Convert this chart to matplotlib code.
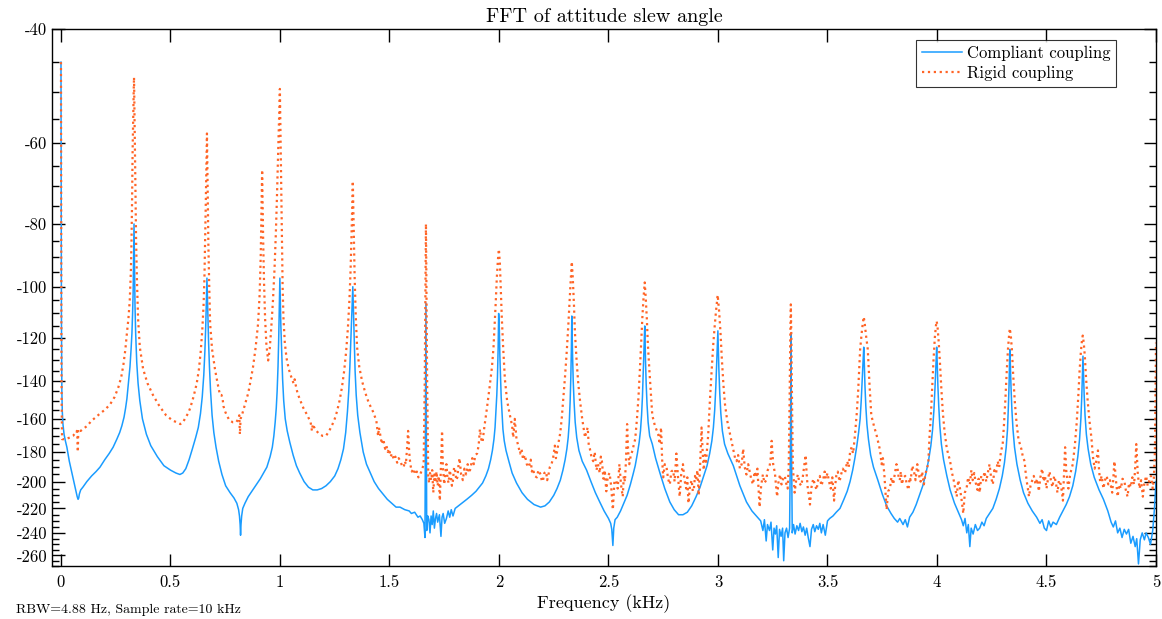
import numpy as np
import matplotlib
matplotlib.use("Agg")
import matplotlib.pyplot as plt
from matplotlib.ticker import FixedLocator, FuncFormatter

plt.rcParams['font.family'] = 'serif'
plt.rcParams['font.serif'] = ['cmr10', 'DejaVu Serif']
plt.rcParams['mathtext.fontset'] = 'cm'
plt.rcParams['axes.unicode_minus'] = False
plt.rcParams['axes.formatter.use_mathtext'] = True

## Spectrum data (frequency in kHz, magnitude in dB)
compliant_freq = [
    0.000, 0.001, 0.002, 0.003, 0.004, 0.006, 0.009, 0.014, 0.020, 0.027,
    0.038, 0.050, 0.060, 0.068, 0.074, 0.078, 0.081, 0.084, 0.090, 0.100,
    0.118, 0.140, 0.160, 0.178, 0.200, 0.220, 0.238, 0.255, 0.268, 0.278,
    0.288, 0.295, 0.301, 0.308, 0.315, 0.320, 0.324, 0.327, 0.3295, 0.331,
    0.3325, 0.3335, 0.3345, 0.336, 0.338, 0.341, 0.346, 0.352, 0.360, 0.372,
    0.390, 0.410, 0.440, 0.470, 0.500, 0.525, 0.543, 0.556, 0.570, 0.585,
    0.600, 0.615, 0.627, 0.637, 0.645, 0.652, 0.657, 0.661, 0.664, 0.6665,
    0.6685, 0.671, 0.674, 0.678, 0.683, 0.690, 0.698, 0.708, 0.720, 0.735,
    0.752, 0.772, 0.790, 0.803, 0.811, 0.815, 0.818, 0.820, 0.822, 0.825,
    0.830, 0.840, 0.855, 0.880, 0.910, 0.940, 0.955, 0.965, 0.972, 0.978,
    0.983, 0.987, 0.991, 0.994, 0.997, 0.9995, 1.0015, 1.004, 1.008, 1.012,
    1.017, 1.024, 1.033, 1.045, 1.060, 1.075, 1.090, 1.110, 1.130, 1.150,
    1.170, 1.190, 1.210, 1.230, 1.250, 1.265, 1.278, 1.290, 1.300, 1.308,
    1.314, 1.319, 1.323, 1.327, 1.3305, 1.3325, 1.3345, 1.337, 1.340, 1.343,
    1.348, 1.355, 1.365, 1.380, 1.395, 1.410, 1.430, 1.450, 1.470, 1.490,
    1.510, 1.530, 1.548, 1.570, 1.590, 1.600, 1.615, 1.630, 1.640, 1.650,
    1.657, 1.662, 1.6645, 1.6665, 1.6685, 1.670, 1.675, 1.680, 1.685, 1.690,
    1.695, 1.700, 1.705, 1.710, 1.715, 1.720, 1.728, 1.735, 1.740, 1.745,
    1.752, 1.760, 1.768, 1.775, 1.782, 1.790, 1.800, 1.815, 1.830, 1.853,
    1.875, 1.895, 1.910, 1.925, 1.940, 1.952, 1.962, 1.970, 1.977, 1.982,
    1.986, 1.990, 1.993, 1.996, 1.9985, 2.0015, 2.004, 2.007, 2.010, 2.014,
    2.018, 2.024, 2.032, 2.045, 2.060, 2.080, 2.105, 2.130, 2.160, 2.190,
    2.210, 2.230, 2.250, 2.265, 2.280, 2.292, 2.302, 2.310, 2.316, 2.321,
    2.325, 2.328, 2.3305, 2.3325, 2.334, 2.336, 2.339, 2.343, 2.348, 2.355,
    2.365, 2.380, 2.400, 2.420, 2.440, 2.460, 2.480, 2.500, 2.510, 2.515,
    2.520, 2.524, 2.530, 2.540, 2.555, 2.570, 2.585, 2.600, 2.612, 2.622,
    2.632, 2.640, 2.646, 2.651, 2.655, 2.658, 2.661, 2.6635, 2.6655, 2.667,
    2.669, 2.672, 2.676, 2.681, 2.688, 2.700, 2.715, 2.735, 2.757, 2.780,
    2.800, 2.820, 2.840, 2.860, 2.880, 2.900, 2.918, 2.935, 2.950, 2.962,
    2.972, 2.979, 2.985, 2.990, 2.994, 2.997, 2.9995, 3.0015, 3.004, 3.008,
    3.013, 3.020, 3.030, 3.045, 3.070, 3.100, 3.130, 3.155, 3.180, 3.195,
    3.205, 3.212, 3.220, 3.226, 3.235, 3.242, 3.250, 3.256, 3.262, 3.268,
    3.275, 3.281, 3.288, 3.295, 3.300, 3.306, 3.313, 3.320, 3.327, 3.331,
    3.3335, 3.3355, 3.339, 3.345, 3.352, 3.360, 3.368, 3.375, 3.383, 3.390,
    3.398, 3.405, 3.412, 3.420, 3.427, 3.435, 3.442, 3.450, 3.458, 3.465,
    3.472, 3.480, 3.490, 3.500, 3.510, 3.525, 3.540, 3.557, 3.575, 3.590,
    3.603, 3.615, 3.625, 3.634, 3.642, 3.649, 3.654, 3.658, 3.661, 3.6655,
    3.668, 3.671, 3.675, 3.680, 3.687, 3.697, 3.710, 3.730, 3.750, 3.770,
    3.790, 3.805, 3.820, 3.830, 3.845, 3.855, 3.865, 3.875, 3.890, 3.905,
    3.920, 3.935, 3.950, 3.962, 3.972, 3.980, 3.986, 3.991, 3.995, 3.9985,
    4.001, 4.004, 4.008, 4.013, 4.020, 4.030, 4.045, 4.060, 4.080, 4.100,
    4.112, 4.120, 4.128, 4.136, 4.143, 4.150, 4.156, 4.165, 4.175, 4.185,
    4.195, 4.205, 4.215, 4.225, 4.240, 4.255, 4.270, 4.285, 4.298, 4.308,
    4.316, 4.322, 4.326, 4.329, 4.3315, 4.3325, 4.335, 4.338, 4.342, 4.347,
    4.354, 4.365, 4.380, 4.395, 4.415, 4.435, 4.455, 4.470, 4.480, 4.490,
    4.500, 4.510, 4.520, 4.530, 4.545, 4.560, 4.575, 4.590, 4.605, 4.620,
    4.633, 4.643, 4.651, 4.657, 4.661, 4.664, 4.6665, 4.669, 4.672, 4.676,
    4.682, 4.690, 4.702, 4.718, 4.740, 4.760, 4.780, 4.795, 4.805, 4.815,
    4.825, 4.835, 4.845, 4.855, 4.865, 4.875, 4.885, 4.895, 4.905, 4.912,
    4.920, 4.928, 4.937, 4.947, 4.955, 4.965, 4.975, 4.985, 4.993, 5.000]
compliant_db = [
    -45, -80, -110, -132, -145, -156, -163, -169, -173, -177,
    -186, -194, -201, -207, -211, -213, -212, -209, -206, -204,
    -200, -196, -193, -190, -185, -181, -177, -172, -168, -164,
    -159, -154, -149, -141, -133, -125, -118, -110, -102, -94,
    -86, -80, -86, -96, -107, -118, -131, -141, -150, -160,
    -169, -176, -183, -189, -192, -194, -195, -194, -191, -185,
    -178, -171, -165, -157, -148, -137, -126, -115, -105, -97,
    -103, -112, -122, -133, -145, -158, -168, -177, -186, -195,
    -203, -208, -212, -216, -221, -226, -233, -242, -233, -226,
    -220, -216, -211, -205, -198, -190, -183, -177, -170, -162,
    -154, -145, -133, -121, -108, -97, -104, -115, -127, -139,
    -150, -160, -167, -174, -182, -189, -194, -200, -204, -206,
    -206, -205, -203, -200, -196, -191, -185, -178, -168, -156,
    -145, -133, -122, -112, -104, -100, -106, -115, -126, -135,
    -147, -158, -168, -180, -188, -193, -200, -205, -209, -213,
    -216, -219, -219, -221, -222, -224, -223, -227, -226, -229,
    -232, -244, -160, -106, -160, -238, -226, -229, -240, -226,
    -233, -222, -236, -228, -224, -231, -225, -243, -227, -224,
    -232, -228, -222, -227, -221, -226, -220, -218, -216, -213,
    -210, -207, -204, -201, -196, -191, -185, -179, -172, -165,
    -156, -147, -138, -125, -110, -116, -128, -138, -148, -157,
    -166, -173, -179, -186, -194, -201, -208, -213, -217, -219,
    -218, -215, -210, -205, -199, -192, -185, -178, -171, -162,
    -150, -138, -125, -111, -118, -128, -140, -151, -162, -171,
    -179, -186, -192, -200, -208, -215, -222, -228, -232, -237,
    -251, -236, -229, -227, -222, -216, -210, -202, -195, -189,
    -181, -174, -167, -158, -148, -138, -128, -120, -115, -120,
    -130, -141, -152, -162, -170, -175, -184, -194, -205, -215,
    -221, -225, -225, -223, -218, -211, -204, -196, -189, -181,
    -173, -165, -155, -143, -131, -122, -117, -124, -134, -146,
    -157, -167, -175, -181, -189, -203, -215, -222, -227, -230,
    -238, -229, -247, -233, -238, -231, -255, -236, -241, -234,
    -262, -237, -243, -236, -265, -240, -236, -244, -236, -170,
    -118, -170, -240, -233, -241, -234, -238, -232, -239, -235,
    -242, -236, -244, -252, -237, -233, -239, -234, -237, -232,
    -240, -233, -242, -230, -228, -226, -223, -220, -213, -207,
    -200, -192, -184, -176, -168, -160, -150, -140, -132, -124,
    -131, -142, -153, -163, -172, -182, -190, -199, -209, -218,
    -224, -228, -231, -228, -233, -229, -235, -227, -223, -217,
    -210, -203, -194, -185, -176, -166, -155, -143, -132, -124,
    -131, -142, -153, -164, -175, -185, -196, -206, -216, -224,
    -229, -234, -228, -240, -233, -252, -236, -241, -233, -238,
    -236, -231, -234, -228, -224, -220, -213, -205, -196, -187,
    -177, -166, -153, -142, -131, -125, -132, -143, -155, -166,
    -177, -188, -199, -208, -216, -222, -227, -232, -229, -236,
    -238, -230, -235, -231, -233, -227, -222, -217, -211, -203,
    -193, -183, -172, -160, -148, -137, -128, -136, -147, -158,
    -169, -178, -188, -197, -206, -213, -222, -231, -235, -230,
    -240, -236, -244, -237, -241, -237, -249, -243, -252, -245,
    -268, -246, -240, -246, -240, -244, -250, -238, -220, -200]

# one line per stretch of the spectrum (same split in both lists)
rigid_freq = [
    0.000, 0.001, 0.002, 0.003, 0.005, 0.020, 0.040, 0.055, 0.066, 0.072, 0.075, 0.077, 0.079,
    0.082, 0.090, 0.100, 0.120, 0.140, 0.160, 0.178, 0.200, 0.224, 0.245, 0.262, 0.275, 0.285, 0.294, 0.301, 0.308, 0.314,
    0.319, 0.322, 0.3245, 0.327, 0.330, 0.332, 0.3335, 0.335, 0.337, 0.340, 0.343, 0.347, 0.352,
    0.360, 0.375, 0.395, 0.420, 0.450, 0.480, 0.510, 0.530, 0.545, 0.557, 0.570, 0.580, 0.590, 0.605, 0.620, 0.630, 0.638,
    0.645, 0.651, 0.655, 0.658, 0.661, 0.664, 0.6665, 0.668, 0.670, 0.673, 0.677, 0.681,
    0.690, 0.703, 0.715, 0.726, 0.733, 0.738, 0.742, 0.750, 0.757, 0.770, 0.786, 0.800, 0.810, 0.814, 0.817, 0.820, 0.826, 0.833, 0.845, 0.855, 0.867, 0.877, 0.889, 0.900,
    0.907, 0.912, 0.915, 0.917, 0.9185, 0.920, 0.923, 0.927, 0.932, 0.938, 0.946, 0.953, 0.960, 0.968, 0.975, 0.981, 0.986, 0.991, 0.995, 0.9995, 1.001, 1.003, 1.006, 1.009, 1.012, 1.016,
    1.022, 1.030, 1.040, 1.052, 1.062, 1.067, 1.072, 1.080, 1.093, 1.107, 1.125, 1.140, 1.146, 1.150, 1.160, 1.180, 1.195, 1.210, 1.225, 1.240, 1.250, 1.260, 1.272, 1.283, 1.293, 1.302, 1.310, 1.317,
    1.322, 1.326, 1.329, 1.3315, 1.3325, 1.334, 1.337, 1.341, 1.346, 1.352,
    1.362, 1.375, 1.390, 1.405, 1.425, 1.440, 1.448,
    1.452, 1.465, 1.472, 1.480, 1.486, 1.492, 1.498, 1.505, 1.512, 1.520, 1.527, 1.535, 1.542, 1.550, 1.557, 1.565, 1.570, 1.575, 1.580, 1.585, 1.590, 1.595, 1.602, 1.610, 1.617, 1.625, 1.632, 1.640, 1.648, 1.656,
    1.661, 1.664, 1.6665, 1.669, 1.672,
    1.677, 1.681, 1.685, 1.690, 1.695, 1.700, 1.705, 1.710, 1.715, 1.720, 1.725, 1.730, 1.735, 1.740, 1.744, 1.750, 1.755, 1.760, 1.765, 1.770, 1.775, 1.780, 1.785, 1.790, 1.795, 1.800, 1.805, 1.810, 1.815, 1.820, 1.827, 1.835, 1.842, 1.850, 1.857, 1.863, 1.870, 1.878, 1.885, 1.892, 1.900, 1.907, 1.913, 1.919, 1.925, 1.930,
    1.935, 1.945, 1.957, 1.968, 1.975, 1.980, 1.985, 1.990, 1.995, 1.9995, 2.004, 2.008, 2.013, 2.019, 2.027, 2.037, 2.050, 2.060,
    2.065, 2.072, 2.080, 2.088, 2.096, 2.103, 2.110, 2.118, 2.127, 2.136, 2.145, 2.150, 2.155, 2.163, 2.173, 2.180, 2.190, 2.195, 2.200, 2.207, 2.215, 2.220, 2.225, 2.232, 2.240, 2.248, 2.255, 2.260, 2.265, 2.272, 2.280,
    2.287, 2.293, 2.302, 2.310, 2.317, 2.323, 2.328, 2.3325, 2.337, 2.342, 2.347, 2.355, 2.362, 2.370, 2.380, 2.393,
    2.398, 2.405, 2.410, 2.415, 2.422, 2.430, 2.437, 2.445, 2.452, 2.460, 2.465, 2.470, 2.477, 2.483, 2.490, 2.497, 2.505, 2.512, 2.520, 2.527, 2.535, 2.542, 2.550, 2.557, 2.565, 2.570, 2.575, 2.580, 2.585, 2.590, 2.595, 2.602, 2.610, 2.616, 2.622,
    2.630, 2.637, 2.644, 2.650, 2.655, 2.660, 2.6655, 2.670, 2.675, 2.680, 2.687, 2.694, 2.700, 2.712,
    2.727, 2.734, 2.740, 2.745, 2.750, 2.757, 2.765, 2.772, 2.780, 2.787, 2.795, 2.802, 2.810, 2.817, 2.825, 2.832, 2.840, 2.847, 2.855, 2.860, 2.865, 2.872, 2.880, 2.885, 2.890, 2.895, 2.900, 2.906, 2.912, 2.918, 2.925, 2.930, 2.935, 2.940, 2.945, 2.950, 2.955,
    2.963, 2.972, 2.979, 2.985, 2.991, 2.9985, 3.005, 3.011, 3.018, 3.025, 3.032, 3.042, 3.055,
    3.070, 3.078, 3.085, 3.092, 3.100, 3.108, 3.115, 3.122, 3.130, 3.138, 3.146, 3.153, 3.160, 3.167, 3.175, 3.180, 3.185, 3.190, 3.197, 3.205, 3.212, 3.220, 3.227, 3.235, 3.240, 3.245, 3.252, 3.260, 3.265, 3.270, 3.277, 3.284, 3.290, 3.297, 3.305, 3.311, 3.318,
    3.323, 3.327, 3.330, 3.3325, 3.335, 3.338, 3.342,
    3.350, 3.357, 3.365, 3.372, 3.380, 3.387, 3.393, 3.400, 3.405, 3.410, 3.415, 3.420, 3.427, 3.435, 3.442, 3.450, 3.457, 3.465, 3.472, 3.480, 3.487, 3.493, 3.500, 3.507, 3.515, 3.522, 3.530, 3.535, 3.540, 3.547, 3.555, 3.562, 3.570, 3.580, 3.590, 3.597, 3.603, 3.610, 3.617, 3.625,
    3.633, 3.640, 3.649, 3.656, 3.661, 3.6655, 3.670, 3.676, 3.684, 3.692, 3.700, 3.712, 3.725,
    3.740, 3.747, 3.753, 3.760, 3.765, 3.770, 3.777, 3.785, 3.792, 3.800, 3.808, 3.815, 3.820, 3.825, 3.830, 3.835, 3.840, 3.847, 3.855, 3.862, 3.870, 3.875, 3.880, 3.887, 3.895, 3.902, 3.910, 3.917, 3.925, 3.932, 3.940, 3.947, 3.953, 3.960,
    3.966, 3.972, 3.978, 3.984, 3.990, 3.995, 3.9985, 4.003, 4.008, 4.014, 4.020, 4.027, 4.035, 4.045,
    4.060, 4.067, 4.075, 4.082, 4.090, 4.097, 4.105, 4.112, 4.120, 4.127, 4.135, 4.142, 4.150, 4.157, 4.163, 4.170, 4.177, 4.185, 4.190, 4.195, 4.202, 4.210, 4.217, 4.225, 4.232, 4.240, 4.247, 4.255, 4.262, 4.270, 4.277, 4.284, 4.290, 4.295, 4.300,
    4.306, 4.312, 4.318, 4.324, 4.329, 4.3325, 4.337, 4.342, 4.348, 4.355, 4.363, 4.372,
    4.385, 4.392, 4.400, 4.405, 4.410, 4.415, 4.420, 4.427, 4.435, 4.442, 4.450, 4.457, 4.465, 4.472, 4.480, 4.487, 4.493, 4.500, 4.507, 4.514, 4.520, 4.527, 4.535, 4.542, 4.550, 4.557, 4.565, 4.570, 4.575, 4.580, 4.585, 4.590, 4.595, 4.600, 4.607, 4.613, 4.620,
    4.630, 4.638, 4.645, 4.651, 4.657, 4.662, 4.6655, 4.670, 4.675, 4.681, 4.688, 4.696, 4.705,
    4.712, 4.720, 4.727, 4.735, 4.740, 4.745, 4.752, 4.760, 4.767, 4.775, 4.782, 4.790, 4.795, 4.800, 4.805, 4.810, 4.817, 4.825, 4.832, 4.840, 4.847, 4.855, 4.862, 4.870, 4.877, 4.885, 4.892, 4.900, 4.905, 4.910, 4.917, 4.925, 4.932, 4.940, 4.947, 4.955, 4.962, 4.970, 4.977, 4.985, 4.990, 4.995, 5.000]
rigid_db = [
    -45, -85, -120, -150, -172, -172, -171, -170, -168, -167, -171, -180, -166,
    -167, -167, -166, -164, -161, -159, -157, -155, -152, -148, -143, -138, -132, -125, -118, -112, -105,
    -95, -85, -74, -62, -54, -50, -47.5, -52, -60, -72, -85, -98, -112,
    -124, -134, -141, -147, -153, -158, -161, -162, -163, -162, -159, -157, -154, -148, -141, -134, -126,
    -117, -107, -97, -86, -75, -65, -58, -64, -73, -86, -100, -114,
    -125, -134, -141, -147, -147, -149, -153, -156, -158, -161, -162, -162, -160, -158, -169, -160, -158, -155, -150, -146, -139, -133, -124, -114,
    -103, -90, -79, -71, -66, -72, -84, -98, -112, -123, -130, -125, -116, -105, -94, -83, -73, -63, -56, -49.5, -54, -62, -74, -87, -100, -112,
    -122, -129, -134, -138, -141, -139, -142, -146, -150, -154, -158, -162, -167, -163, -166, -169, -170, -170, -167, -163, -160, -156, -150, -143, -135, -126, -116, -105,
    -95, -85, -77, -71, -68.7, -73, -83, -97, -111, -124,
    -133, -140, -146, -151, -156, -161, -170,
    -165, -175, -172, -178, -176, -180, -178, -183, -181, -185, -183, -187, -184, -186, -189, -190, -186, -188, -178, -167, -180, -188, -193, -191, -195, -193, -197, -195, -192, -188,
    -140, -105, -80, -105, -140,
    -196, -201, -194, -199, -192, -208, -195, -199, -193, -203, -196, -214, -190, -167, -190, -202, -194, -188, -198, -201, -192, -196, -203, -199, -190, -192, -199, -197, -189, -184, -195, -199, -191, -195, -188, -194, -191, -184, -188, -182, -181, -176, -166, -172, -174, -168,
    -163, -154, -143, -133, -124, -115, -106, -97, -91, -87.5, -92, -100, -112, -124, -139, -150, -158, -164,
    -171, -160, -172, -176, -181, -178, -185, -182, -188, -190, -185, -193, -191, -196, -197, -192, -195, -199, -200, -194, -193, -199, -196, -190, -188, -183, -176, -184, -180, -174, -168,
    -159, -150, -137, -125, -114, -104, -97, -91.5, -97, -106, -118, -131, -141, -150, -160, -171,
    -168, -165, -176, -178, -183, -186, -180, -192, -188, -194, -183, -186, -198, -192, -207, -196, -194, -203, -221, -200, -199, -205, -188, -202, -211, -196, -200, -185, -163, -180, -188, -182, -179, -175, -172,
    -160, -148, -133, -120, -111, -104, -98.5, -104, -112, -123, -135, -147, -158, -164,
    -169, -175, -165, -185, -197, -188, -190, -198, -202, -193, -192, -200, -181, -196, -211, -195, -188, -199, -205, -197, -216, -203, -199, -207, -205, -196, -199, -192, -210, -190, -165, -180, -192, -182, -188, -178, -170,
    -150, -133, -122, -115, -109, -103, -109, -117, -130, -142, -152, -161, -169,
    -179, -184, -186, -182, -191, -188, -178, -190, -195, -188, -194, -199, -202, -193, -197, -191, -204, -219, -203, -195, -201, -199, -192, -190, -185, -173, -188, -194, -203, -211, -199, -195, -202, -198, -196, -201, -205,
    -190, -150, -120, -106.5, -120, -150, -190,
    -208, -199, -195, -201, -203, -197, -190, -182, -195, -205, -210, -217, -204, -198, -202, -206, -199, -196, -203, -199, -193, -198, -194, -200, -205, -197, -214, -203, -196, -193, -200, -195, -191, -194, -186, -190, -180, -177, -181, -170,
    -158, -145, -125, -118, -114, -111.3, -114, -119, -125, -142, -158, -164, -170,
    -179, -188, -184, -196, -208, -221, -207, -205, -197, -202, -194, -188, -191, -197, -199, -193, -202, -197, -196, -202, -206, -197, -199, -189, -193, -199, -188, -195, -200, -193, -202, -195, -191, -188,
    -170, -158, -143, -130, -120, -115, -113, -116, -122, -132, -144, -157, -168, -178,
    -186, -193, -198, -204, -211, -199, -205, -213, -224, -208, -205, -197, -202, -192, -199, -194, -201, -206, -198, -208, -196, -199, -193, -200, -194, -188, -197, -202, -192, -194, -186, -190, -182, -178, -175,
    -163, -150, -136, -125, -119, -116, -119, -125, -137, -150, -162, -172,
    -178, -183, -186, -194, -200, -205, -211, -203, -199, -196, -202, -198, -207, -197, -191, -200, -196, -205, -198, -193, -199, -204, -196, -200, -208, -199, -202, -207, -214, -195, -177, -192, -199, -205, -196, -192, -188,
    -175, -162, -148, -135, -126, -121, -119, -122, -128, -139, -150, -161, -171,
    -183, -191, -186, -179, -192, -200, -196, -205, -199, -196, -202, -199, -204, -208, -198, -186, -199, -211, -202, -205, -198, -199, -206, -211, -201, -204, -197, -202, -190, -175, -195, -205, -199, -211, -201, -196, -203, -199, -196, -205, -198, -180, -122]

major_ticks = [-40, -60, -80, -100, -120, -140, -160, -180, -200, -220, -240, -260]
x_ticks = [0, 0.5, 1, 1.5, 2, 2.5, 3, 3.5, 4, 4.5, 5]

# Creating figure
fig = plt.figure(figsize=(11.62, 6.19), dpi=100)
ax = fig.add_axes([52 / 1162, 1 - 566 / 619, 1104 / 1162, 537 / 619])

# y axis is log of the (negative) dB value
ax.set_yscale('function', functions=(lambda y: -np.log(-np.asarray(y, dtype=float)),
                                     lambda u: -np.exp(-np.asarray(u, dtype=float))))

ax.plot(compliant_freq, compliant_db, color='#1a9cff', lw=1.1, label='Compliant coupling')
ax.plot(rigid_freq, rigid_db, color='#ff6426', lw=1.6, ls=':', label='Rigid coupling')

ax.set_xlim(-0.041, 5)
ax.set_ylim(-270, -40)
ax.yaxis.set_major_locator(FixedLocator(major_ticks))
ax.yaxis.set_minor_locator(FixedLocator([v for v in range(-270, -39, 5) if v not in major_ticks]))
ax.yaxis.set_major_formatter(FuncFormatter(lambda v, p: '-%d' % round(-v)))
ax.set_xticks(x_ticks)
ax.xaxis.set_major_formatter(FuncFormatter(lambda v, p: ('%g' % v)))

ax.tick_params(which='both', direction='in', top=True, right=True, labelsize=12, width=1)
ax.tick_params(which='major', length=9)
ax.tick_params(which='minor', length=5)
ax.tick_params(axis='x', pad=6)
for sp in ax.spines.values():
    sp.set_linewidth(1.0)

ax.set_title('FFT of attitude slew angle', fontsize=14.5, pad=5)
ax.set_xlabel('Frequency (kHz)', fontsize=13, labelpad=3)
leg = ax.legend(loc='upper right', bbox_to_anchor=(0.9638, 0.9795), borderaxespad=0,
                fontsize=12, frameon=True, fancybox=False, handlelength=2.4,
                handletextpad=0.3, borderpad=0.35, labelspacing=0.25)
leg.get_frame().set_edgecolor('black')
leg.get_frame().set_linewidth(0.8)

fig.text(16 / 1162, 1 - 610 / 619, 'RBW=4.88 Hz, Sample rate=10 kHz', fontsize=10, va='center')

fig.savefig('out.png', dpi=100)
